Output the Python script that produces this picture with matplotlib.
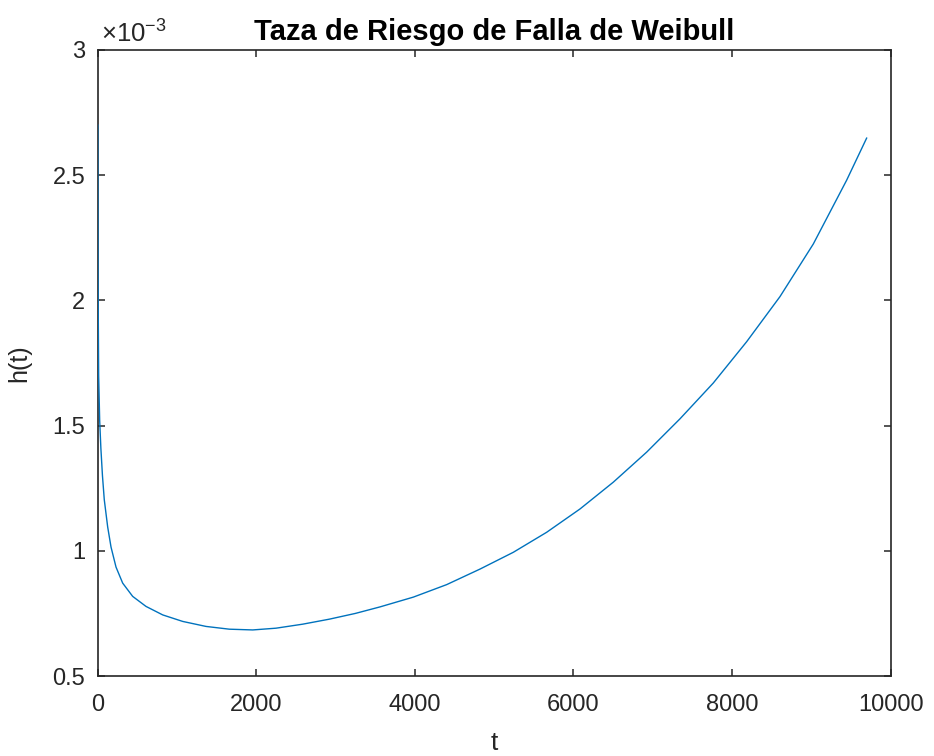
import matplotlib
matplotlib.use("Agg")
import matplotlib.pyplot as plt
from matplotlib.ticker import FuncFormatter

plt.rcParams['font.family'] = ['Liberation Sans', 'DejaVu Sans']
plt.rcParams['mathtext.fontset'] = 'custom'
plt.rcParams['mathtext.rm'] = 'Liberation Sans'
plt.rcParams['mathtext.it'] = 'Liberation Sans:italic'

# tiempo (horas) y tasa de riesgo h(t)
t = [1, 4, 12, 25, 40, 60, 83, 126, 168, 231, 315, 441, 609, 820, 1072,
     1366, 1660, 1955, 2249, 2585, 2921, 3250, 3560, 3980, 4401, 4821,
     5241, 5662, 6082, 6502, 6923, 7343, 7763, 8184, 8604, 9024, 9445, 9697]
h = [2.70e-3, 2.10e-3, 1.70e-3, 1.52e-3, 1.41e-3, 1.30e-3, 1.204e-3,
     1.095e-3, 1.015e-3, 0.935e-3, 0.871e-3, 0.818e-3, 0.778e-3, 0.744e-3,
     0.718e-3, 0.698e-3, 0.687e-3, 0.684e-3, 0.691e-3, 0.707e-3, 0.727e-3,
     0.750e-3, 0.776e-3, 0.815e-3, 0.865e-3, 0.927e-3, 0.994e-3, 1.074e-3,
     1.167e-3, 1.274e-3, 1.394e-3, 1.527e-3, 1.670e-3, 1.835e-3, 2.015e-3,
     2.225e-3, 2.480e-3, 2.648e-3]

x_ticks = [0, 2000, 4000, 6000, 8000, 10000]
y_ticks = [0.5e-3, 1.0e-3, 1.5e-3, 2.0e-3, 2.5e-3, 3.0e-3]

gris = '#262626'

fig = plt.figure(figsize=(9.34, 7.56), dpi=100)
ax = fig.add_axes([0.1046, 0.1058, 0.8490, 0.8281])

ax.plot(t, h, color='#0072BD', lw=1.0, zorder=3)

ax.set_xlim(0, 10000)
ax.set_ylim(0.5e-3, 3e-3)
ax.set_xticks(x_ticks)
ax.set_yticks(y_ticks)
ax.yaxis.set_major_formatter(FuncFormatter(lambda v, p: '%g' % round(v * 1e3, 3)))

for s in ax.spines.values():
    s.set_color(gris)
    s.set_linewidth(1.2)
ax.tick_params(direction='in', length=5, width=1.1, colors=gris,
               labelsize=17, top=True, right=True)
ax.tick_params(axis='x', pad=13)
ax.tick_params(axis='y', pad=9)

ax.set_title('Taza de Riesgo de Falla de Weibull', fontsize=21,
             fontweight='bold', color='black', pad=7)
ax.set_xlabel('t', fontsize=19, color=gris, labelpad=11)
ax.set_ylabel('h(t)', fontsize=18, color=gris, labelpad=15)

ax.text(0.004, 1.004, r'$\times10^{-3}$', transform=ax.transAxes,
        ha='left', va='bottom', fontsize=18.5, color=gris)

fig.savefig('out.png', dpi=100)
